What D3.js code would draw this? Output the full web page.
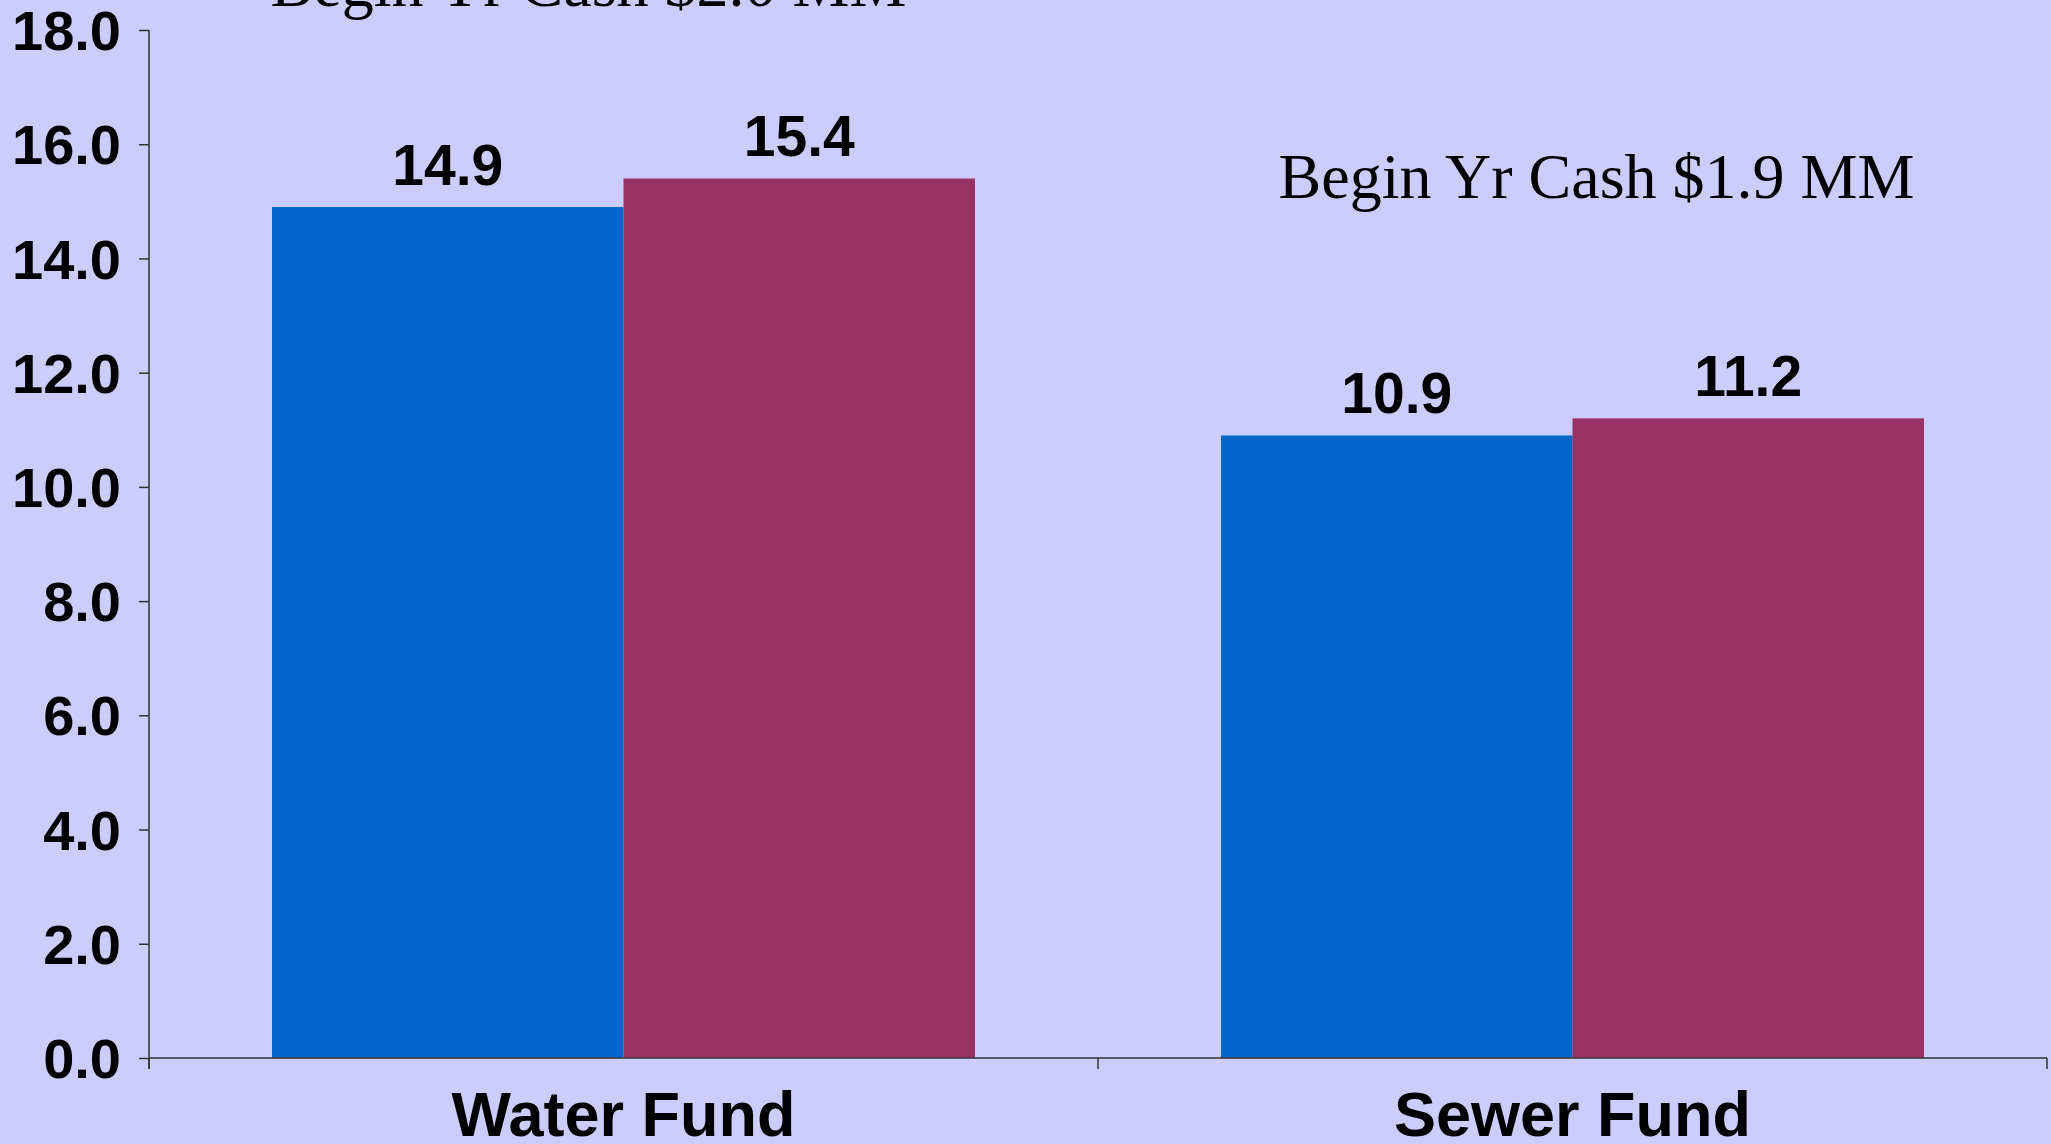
<!DOCTYPE html>
<html>
<head>
<meta charset="utf-8">
<script src="https://cdn.jsdelivr.net/npm/d3@7"></script>
<style>
  html, body { margin: 0; padding: 0; background: #ccccff; overflow: hidden; }
  svg { display: block; }
</style>
</head>
<body>
<div class="chart"></div>
<script>
'use strict'
// data
var funds = ['Water Fund', 'Sewer Fund']
var series = ['first', 'second']
var firstValues = [14.9, 10.9]
var secondValues = [15.4, 11.2]
var yTicks = [0, 2, 4, 6, 8, 10, 12, 14, 16, 18]
var notes = [
  { text: 'Begin Yr Cash $2.0 MM', fund: 'Water Fund' },
  { text: 'Begin Yr Cash $1.9 MM', fund: 'Sewer Fund' }
]

var width = 2051
var height = 1144
var colors = { first: '#0066cc', second: '#993366' }

var svg = d3.select('.chart').append('svg')
  .attr('width', width)
  .attr('height', height)

svg.append('rect')
  .attr('width', width)
  .attr('height', height)
  .attr('fill', '#ccccff')

var x0 = d3.scaleBand().domain(funds).range([149, 2047]).paddingInner(0).paddingOuter(0)
var x1 = d3.scaleBand().domain(series).range([0, x0.bandwidth()]).paddingInner(0).paddingOuter(0.35)
var y = d3.scaleLinear().domain([0, 18]).range([1058, 30])

var rows = funds.map(function (f, i) {
  return { fund: f, first: firstValues[i], second: secondValues[i] }
})

// bars
var groups = svg.append('g').selectAll('g')
  .data(rows)
  .enter().append('g')
  .attr('transform', function (d) { return 'translate(' + x0(d.fund) + ',0)' })

groups.selectAll('rect')
  .data(function (d) { return series.map(function (s) { return { key: s, value: d[s] } }) })
  .enter().append('rect')
  .attr('x', function (d) { return x1(d.key) })
  .attr('width', x1.bandwidth())
  .attr('y', function (d) { return y(d.value) })
  .attr('height', function (d) { return y(0) - y(d.value) })
  .attr('fill', function (d) { return colors[d.key] })

// value labels
groups.selectAll('text')
  .data(function (d) { return series.map(function (s) { return { key: s, value: d[s] } }) })
  .enter().append('text')
  .attr('x', function (d) { return x1(d.key) + x1.bandwidth() / 2 })
  .attr('y', function (d) { return y(d.value) - 22 })
  .attr('text-anchor', 'middle')
  .style('font-family', 'Arial, "Liberation Sans", sans-serif')
  .style('font-weight', 'bold')
  .style('font-size', '57px')
  .style('fill', '#000')
  .text(function (d) { return d3.format('.1f')(d.value) })

// y axis
var yAxis = svg.append('g')
  .attr('transform', 'translate(149,0)')
  .call(d3.axisLeft(y).tickValues(yTicks).tickFormat(d3.format('.1f'))
    .tickSize(10).tickSizeOuter(0).tickPadding(18))
yAxis.select('.domain').remove()
yAxis.selectAll('line').attr('stroke', '#333').attr('stroke-width', 1.5)
yAxis.selectAll('text')
  .attr('dy', '0.35em')
  .style('font-family', 'Arial, "Liberation Sans", sans-serif')
  .style('font-weight', 'bold')
  .style('font-size', '56px')
  .style('fill', '#000')

// axis lines
svg.append('line')
  .attr('x1', 149).attr('x2', 149)
  .attr('y1', y(18)).attr('y2', y(0) + 11)
  .attr('stroke', '#333').attr('stroke-width', 1.5)
svg.append('line')
  .attr('x1', 149).attr('x2', 2047)
  .attr('y1', y(0)).attr('y2', y(0))
  .attr('stroke', '#333').attr('stroke-width', 1.5)

// category boundary ticks
var bounds = funds.map(function (f) { return x0(f) }).concat([x0.range()[1]])
svg.append('g').selectAll('line')
  .data(bounds)
  .enter().append('line')
  .attr('x1', function (d) { return d }).attr('x2', function (d) { return d })
  .attr('y1', y(0)).attr('y2', y(0) + 11)
  .attr('stroke', '#333').attr('stroke-width', 1.5)

// category labels
svg.append('g').selectAll('text')
  .data(funds)
  .enter().append('text')
  .attr('x', function (d) { return x0(d) + x0.bandwidth() / 2 })
  .attr('y', y(0) + 78)
  .attr('text-anchor', 'middle')
  .style('font-family', 'Arial, "Liberation Sans", sans-serif')
  .style('font-weight', 'bold')
  .style('font-size', '63px')
  .style('fill', '#000')
  .text(function (d) { return d })

// begin year cash notes
var noteOffset = { 'Water Fund': { dx: -35, y: 6 }, 'Sewer Fund': { dx: 24, y: 198 } }
svg.append('g').selectAll('text')
  .data(notes)
  .enter().append('text')
  .attr('x', function (d) { return x0(d.fund) + x0.bandwidth() / 2 + noteOffset[d.fund].dx })
  .attr('y', function (d) { return noteOffset[d.fund].y })
  .attr('text-anchor', 'middle')
  .style('font-family', '"Times New Roman", "Liberation Serif", serif')
  .style('font-size', '64px')
  .style('fill', '#000')
  .text(function (d) { return d.text })
</script>
</body>
</html>
